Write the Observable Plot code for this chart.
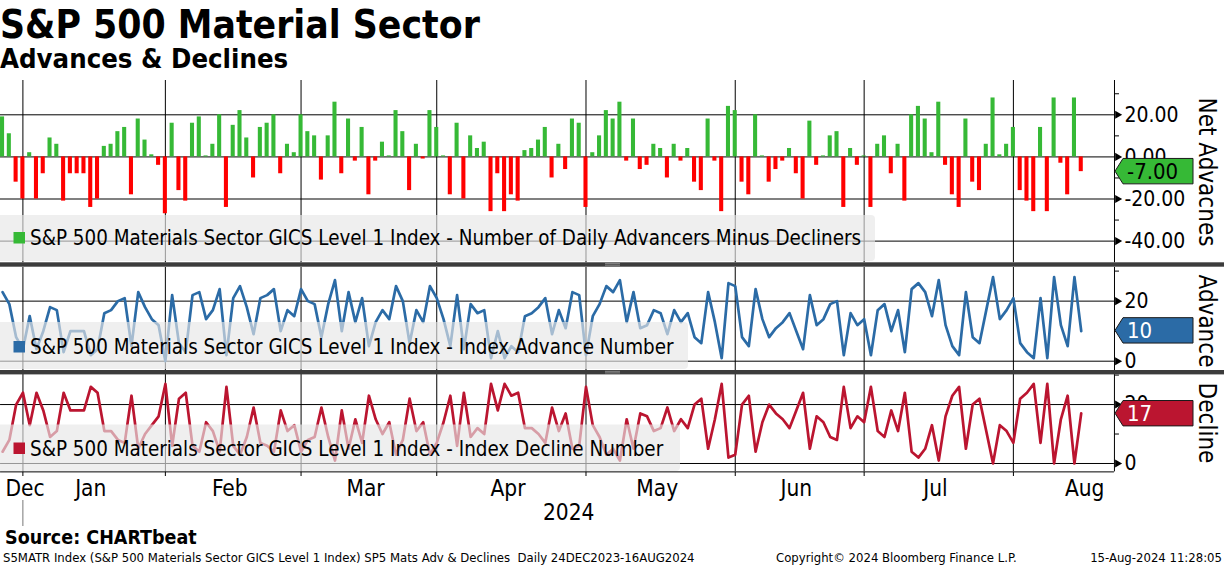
<!DOCTYPE html>
<html><head><meta charset="utf-8">
<script src="https://cdn.jsdelivr.net/npm/d3@7"></script>
<script src="https://cdn.jsdelivr.net/npm/@observablehq/plot@0.6"></script>
<style>
body{margin:0;background:#fff;}
#wrap{position:relative;width:1224px;height:566px;overflow:hidden;background:#fff;color:#000;}
</style></head><body><div id="wrap"></div>
<script>
const FONT = "'DejaVu Sans Condensed','Liberation Sans',sans-serif";

// Net advances (advancers minus decliners), one per trading day 27 Dec 2023 - 15 Aug 2024
const net = [
 19, 11, -12,
 -20, 2, -20, -8, 9, 6, -21, -8, -8, -8, -24, -20, 5, 6, 12, 14, -18, 18, 8, 1, -4,
 -27, 16, -16, -21, 16, 19, 0, 6, 20, -24, 15, 22, 9, -10, 14, 16, 20, -8, 6, 2,
 20, 12, 10, -11, 10, 26, -8, 18, -2, 14, -18, -2, 7, 0, 22, 12, -16, 6, -1, 22,
 14, 0, -18, 16, -20, 10, 4, 7, -26, -8, -26, -18, -21, 3, 4, 8, 14, -10, 6, -6, 18, 16,
 -24, 2, 10, 22, 18, 26, -2, 18, -6, -4, 6, 4, -10, 6, -2, 4, -12, -16, 18, -2, -26, 24,
 22, -12, -18, 20, 0, -12, -6, -2, 4, -8, -20, 17, -4, 0, 10, 12, -24, 4, -4,
 0, -24, 6, 10, -8, 6, -21, 20, 24, 18, 2, 26, -4, -18, -24, 18, -12, -16, 6, 28, 1, 6,
 14, -16, -21, -26, 14, -26, 28, -3, -18, 28, -7
];
const advances = [
 23, 19, 8,
 4, 15, 4, 10, 18, 17, 3, 10, 10, 10, 2, 4, 16, 17, 20, 21, 5, 23, 18, 14, 12,
 0, 22, 6, 3, 22, 23, 14, 17, 24, 2, 21, 25, 18, 9, 21, 22, 24, 10, 17, 15,
 24, 20, 19, 8, 19, 27, 10, 23, 13, 21, 5, 13, 17, 14, 25, 20, 6, 17, 13, 25,
 21, 14, 5, 22, 4, 19, 16, 17, 1, 10, 1, 5, 3, 15, 16, 18, 21, 9, 17, 11, 23, 22,
 2, 15, 19, 25, 23, 27, 13, 23, 11, 12, 17, 16, 9, 17, 13, 16, 8, 6, 23, 13, 1, 26,
 25, 8, 5, 24, 14, 8, 11, 13, 16, 10, 4, 22, 12, 14, 19, 20, 2, 16, 12,
 14, 2, 17, 19, 10, 17, 3, 24, 26, 23, 15, 27, 12, 5, 2, 23, 8, 6, 17, 28, 14, 17,
 21, 6, 3, 1, 21, 1, 28, 12, 5, 28, 10
];
const declines = [
 4, 8, 20,
 24, 13, 24, 18, 9, 11, 24, 18, 18, 18, 26, 24, 11, 11, 8, 7, 23, 5, 10, 13, 16,
 27, 6, 22, 24, 6, 4, 14, 11, 4, 26, 6, 3, 9, 19, 7, 6, 4, 18, 11, 13,
 4, 8, 9, 19, 9, 1, 18, 5, 15, 7, 23, 15, 10, 14, 3, 8, 22, 11, 14, 3,
 7, 14, 23, 6, 24, 9, 12, 10, 27, 18, 27, 23, 24, 12, 12, 10, 7, 19, 11, 17, 5, 6,
 26, 13, 9, 3, 5, 1, 15, 5, 17, 16, 11, 12, 19, 11, 15, 12, 20, 22, 5, 15, 27, 2,
 3, 20, 23, 4, 14, 20, 17, 15, 12, 18, 24, 5, 16, 14, 9, 8, 26, 12, 16,
 14, 26, 11, 9, 18, 11, 24, 4, 2, 5, 13, 1, 16, 23, 26, 5, 20, 22, 11, 0, 13, 11,
 7, 22, 24, 27, 7, 27, 0, 15, 23, 0, 17
];
const monthLabels = ["Jan","Feb","Mar","Apr","May","Jun","Jul","Aug"];
const monthStart  = [3, 24, 44, 64, 86, 108, 127, 149];   // trading-day index of 1st session
const monthDays   = [21, 20, 20, 22, 22, 19, 22, 22];
const netTicks = [-40, -20, 0, 20];
const netMinor = [-30, -10, 10, 30];
const cntTicks = [0, 20];
const cntMinor = [10, 30];
const legend1 = "S&P 500 Materials Sector GICS Level 1 Index - Number of Daily Advancers Minus Decliners";
const legend2 = "S&P 500 Materials Sector GICS Level 1 Index - Index Advance Number";
const legend3 = "S&P 500 Materials Sector GICS Level 1 Index - Index Decline Number";

const rows = net.map((v, i) => ({i, net: v, adv: advances[i], dec: declines[i]}));
const last = rows[rows.length - 1];

const W = 1224, MR = 110, XD = [-0.3, 163.9];
const GREEN = "#36b936", RED = "#ff0000", BLUE = "#2b6ba6", CRIM = "#bb1530";
const wrap = document.getElementById("wrap");

function panel({top, height, ydomain, marks}) {
  const p = Plot.plot({
    width: W, height, marginLeft: 0, marginRight: MR, marginTop: 0, marginBottom: 0,
    x: {domain: XD, axis: null}, y: {domain: ydomain, axis: null, label: null},
    style: {fontFamily: FONT, background: "transparent", overflow: "visible", color: "#000"},
    marks
  });
  p.style.position = "absolute"; p.style.top = top + "px"; p.style.left = "0px";
  wrap.appendChild(p);
  return p;
}
function rightAxis(ticks, minor, fmt) {
  return [
    Plot.ruleX([XD[1]], {stroke: "#000"}),
    Plot.axisY({anchor: "right", ticks: minor, tickSize: 4, tickFormat: () => "", label: null, stroke: "#000"}),
    Plot.dot(ticks, {y: d => d, frameAnchor: "right", symbol: "triangle", rotate: 90, r: 3, fill: "#000", dx: 3}),
    Plot.axisY({anchor: "right", ticks, tickSize: 0, tickPadding: 10, tickFormat: fmt, label: null, fontSize: 21, fill: "#000"})
  ];
}
const grid = (ticks) => [
  Plot.ruleY(ticks, {stroke: "#000"}),
  Plot.ruleX(monthStart, {stroke: "#000"})
];

const p1Top = 80, p2Top = 266.7, p3Top = 374.3;
const p1 = panel({top: p1Top, height: 182.3, ydomain: [-50.3, 36.3], marks: [
  ...grid(netTicks),
  Plot.rect(rows.filter(d => d.net > 0), {x1: d => d.i - 0.3, x2: d => d.i + 0.3, y1: 0, y2: "net", fill: GREEN}),
  Plot.rect(rows.filter(d => d.net < 0), {x1: d => d.i - 0.3, x2: d => d.i + 0.3, y1: 0, y2: "net", fill: RED}),
  Plot.rect(rows.filter(d => d.net === 0), {x1: d => d.i - 0.3, x2: d => d.i + 0.3, y1: 0, y2: "net", fill: GREEN, insetTop: -1}),
  ...rightAxis(netTicks, netMinor, d => d.toFixed(2))
]});
const p2 = panel({top: p2Top, height: 103.3, ydomain: [-3.2, 31.2], marks: [
  ...grid(cntTicks),
  Plot.line(rows, {x: "i", y: "adv", stroke: BLUE, strokeWidth: 2.7}),
  ...rightAxis(cntTicks, cntMinor, d => String(d))
]});
const p3 = panel({top: p3Top, height: 97.4, ydomain: [-2.85, 30.2], marks: [
  ...grid(cntTicks),
  Plot.ruleY([-2.85], {stroke: "#000"}),
  Plot.line(rows, {x: "i", y: "dec", stroke: CRIM, strokeWidth: 2.7}),
  ...rightAxis(cntTicks, cntMinor, d => String(d))
]});

// bottom time axis
const strip = Plot.plot({
  width: W, height: 54, marginLeft: 0, marginRight: MR, marginTop: 0, marginBottom: 0,
  x: {domain: XD, axis: null},
  style: {fontFamily: FONT, background: "transparent", overflow: "visible", color: "#000"},
  marks: [
    Plot.ruleX(monthStart, {stroke: "#000", insetBottom: 50}),
    Plot.ruleX([monthStart[0]], {stroke: "#777", insetTop: 28}),
    Plot.text(monthLabels, {x: (d, k) => monthStart[k] + (monthDays[k] - 1) / 2, text: d => d, frameAnchor: "top", lineAnchor: "middle", dy: 16, fontSize: 22.5, fill: "#000"}),
    Plot.text(["Dec"], {x: XD[0], text: d => d, dx: 5, textAnchor: "start", frameAnchor: "top", lineAnchor: "middle", dy: 16, fontSize: 22.5, fill: "#000"}),
    Plot.text(["2024"], {x: (monthStart[0] + XD[1]) / 2, text: d => d, frameAnchor: "top", lineAnchor: "middle", dy: 40, fontSize: 22.5, fill: "#000"})
  ]
});
strip.style.position = "absolute"; strip.style.top = "471.7px"; strip.style.left = "0px";
wrap.appendChild(strip);

// overlay: titles, separators, legends, last-value tags, footer
const ov = d3.create("svg").attr("width", W).attr("height", 566)
  .style("position", "absolute").style("left", 0).style("top", 0)
  .style("font-family", FONT).style("pointer-events", "none");
wrap.appendChild(ov.node());

function txt(s, x, y, size, opts = {}) {
  const t = ov.append("text").attr("x", x).attr("y", y).attr("font-size", size).text(s)
    .attr("fill", opts.fill || "#000").style("white-space", "pre");
  if (opts.bold) t.attr("font-weight", "bold");
  if (opts.anchor) t.attr("text-anchor", opts.anchor);
  if (opts.rotate) t.attr("transform", `rotate(90,${x},${y})`);
  return t;
}
txt("S&P 500 Material Sector", 0, 37.5, 38.7, {bold: true});
txt("Advances & Declines", 0, 68, 27.3, {bold: true});

// separators
for (const y of [262.3, 370]) {
  ov.append("rect").attr("x", 0).attr("y", y).attr("width", W).attr("height", 4.4).attr("fill", "#3c3c3c");
  for (const dy of [1.3, 2.9]) ov.append("line").attr("x1", 605).attr("x2", 620).attr("y1", y + dy).attr("y2", y + dy).attr("stroke", "#9a9a9a").attr("stroke-width", 0.8);
}

// legends
function legend(y0, h, w, color, label, base) {
  ov.append("rect").attr("x", -6).attr("y", y0).attr("width", w + 6).attr("height", h).attr("rx", 4)
    .attr("fill", "#e6e6e6").attr("fill-opacity", 0.65);
  ov.append("rect").attr("x", 13.5).attr("y", base - 13).attr("width", 11.5).attr("height", 11.5).attr("fill", color);
  txt(label, 30, base, 20.4);
}
legend(215, 46, 875, GREEN, legend1, 245);
legend(322, 47, 688, BLUE, legend2, 354);
legend(424.5, 46.5, 680, CRIM, legend3, 455.5);

// last value tags
function tag(yc, fill, label, color) {
  const h = 12.7;
  ov.append("path").attr("d", `M1115,${yc} L1123,${yc - h} L1193,${yc - h} L1193,${yc + h} L1123,${yc + h} Z`)
    .attr("fill", fill).attr("stroke", "#1a1a1a").attr("stroke-width", 1);
  txt(label, 1127, yc + 8, 22, {fill: color});
}
tag(p1Top + p1.scale("y").apply(last.net), GREEN, last.net.toFixed(2), "#000");
tag(p2Top + p2.scale("y").apply(last.adv), BLUE, String(last.adv), "#fff");
tag(p3Top + p3.scale("y").apply(last.dec), CRIM, String(last.dec), "#fff");

// right titles
txt("Net Advacnes", 1199, 172, 24, {anchor: "middle", rotate: true});
txt("Advance", 1199, 321, 24, {anchor: "middle", rotate: true});
txt("Decline", 1199, 423, 24, {anchor: "middle", rotate: true});

// footer
txt("Source: CHARTbeat", 5, 544, 19.5, {bold: true});
txt("S5MATR Index (S&P 500 Materials Sector GICS Level 1 Index) SP5 Mats Adv & Declines  Daily 24DEC2023-16AUG2024", 3, 562, 13);
txt("Copyright\u00A9 2024 Bloomberg Finance L.P.", 776, 562, 13);
txt("15-Aug-2024 11:28:05", 1222, 562, 13, {anchor: "end"});
</script></body></html>
